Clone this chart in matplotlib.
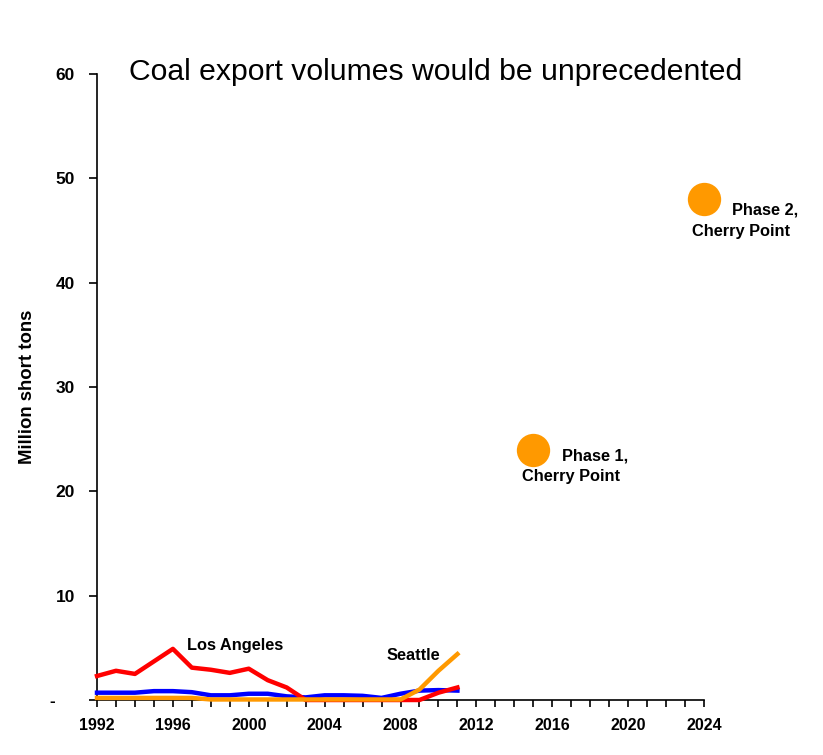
import matplotlib
matplotlib.use("Agg")
import matplotlib.pyplot as plt
import numpy as np

#--------------------------------------------------------------
# Data
years = np.arange(1992, 2012)

los_angeles = [2.3, 2.8, 2.5, 3.7, 4.9, 3.1, 2.9, 2.6, 3.0, 1.9,
               1.2, 0.0, 0.0, 0.0, 0.0, 0.0, 0.0, 0.0, 0.7, 1.2]
other_port  = [0.7, 0.7, 0.7, 0.85, 0.85, 0.75, 0.45, 0.45, 0.6, 0.6,
               0.35, 0.25, 0.45, 0.45, 0.4, 0.2, 0.6, 0.9, 0.95, 0.9]
seattle     = [0.2, 0.2, 0.2, 0.2, 0.2, 0.2, 0.05, 0.05, 0.05, 0.05,
               0.05, 0.05, 0.05, 0.05, 0.05, 0.05, 0.05, 1.0, 2.8, 4.4]

phase_years  = [2015, 2024]
phase_values = [24, 48]

y_ticks  = [0, 10, 20, 30, 40, 50, 60]
y_labels = ['-    ', '10', '20', '30', '40', '50', '60']
x_major  = np.arange(1992, 2025, 4)
x_minor  = np.arange(1992, 2025, 1)

#--------------------------------------------------------------
plt.rcParams['font.family'] = ['Liberation Sans', 'DejaVu Sans']

fig = plt.figure(figsize=(8.23, 7.55), dpi=100)
ax = fig.add_axes([97/823, 1-700/755, 607/823, 626/755])

ax.plot(years, other_port, color='#0000FF', lw=3.2, zorder=3, clip_on=False)
ax.plot(years, los_angeles, color='#FF0000', lw=3.2, zorder=4, clip_on=False)
ax.plot(years, seattle, color='#FF9900', lw=3.2, zorder=5, clip_on=False)
ax.plot(phase_years, phase_values, 'o', color='#FF9900', ms=24, mec='none',
        zorder=6, clip_on=False)

ax.set_xlim(1992, 2024)
ax.set_ylim(0, 60)

for s in ['top', 'right']:
    ax.spines[s].set_visible(False)
for s in ['left', 'bottom']:
    ax.spines[s].set_linewidth(1.2)

ax.set_yticks(y_ticks)
ax.set_yticklabels(y_labels, fontsize=12.5, fontweight='bold')
ax.set_xticks(x_major)
ax.set_xticklabels([str(y) for y in x_major], fontsize=11.5, fontweight='bold')
ax.set_xticks(x_minor, minor=True)
ax.tick_params(axis='y', direction='out', length=6, width=1.2, pad=10)
ax.tick_params(axis='x', which='both', direction='out', length=5, width=1.2, pad=8)

ax.set_ylabel('Million short tons', fontsize=13.4, fontweight='bold')
ax.yaxis.set_label_coords(-0.1, 0.5)

# Series annotations
ann = dict(fontsize=11.8, fontweight='bold', va='center')
ax.text(1996.74, 5.2, 'Los Angeles', **ann)
ax.text(2007.27, 4.3, 'Seattle', **ann)
ax.text(2016.5, 23.4, 'Phase 1,', **ann)
ax.text(2014.4, 21.4, 'Cherry Point', **ann)
ax.text(2025.45, 47.0, 'Phase 2,', **ann)
ax.text(2023.35, 44.9, 'Cherry Point', **ann)

fig.text(129/823, 1-72/755, 'Coal export volumes would be unprecedented',
         fontsize=21.7, va='center', ha='left')

fig.savefig('out.png', dpi=100)
